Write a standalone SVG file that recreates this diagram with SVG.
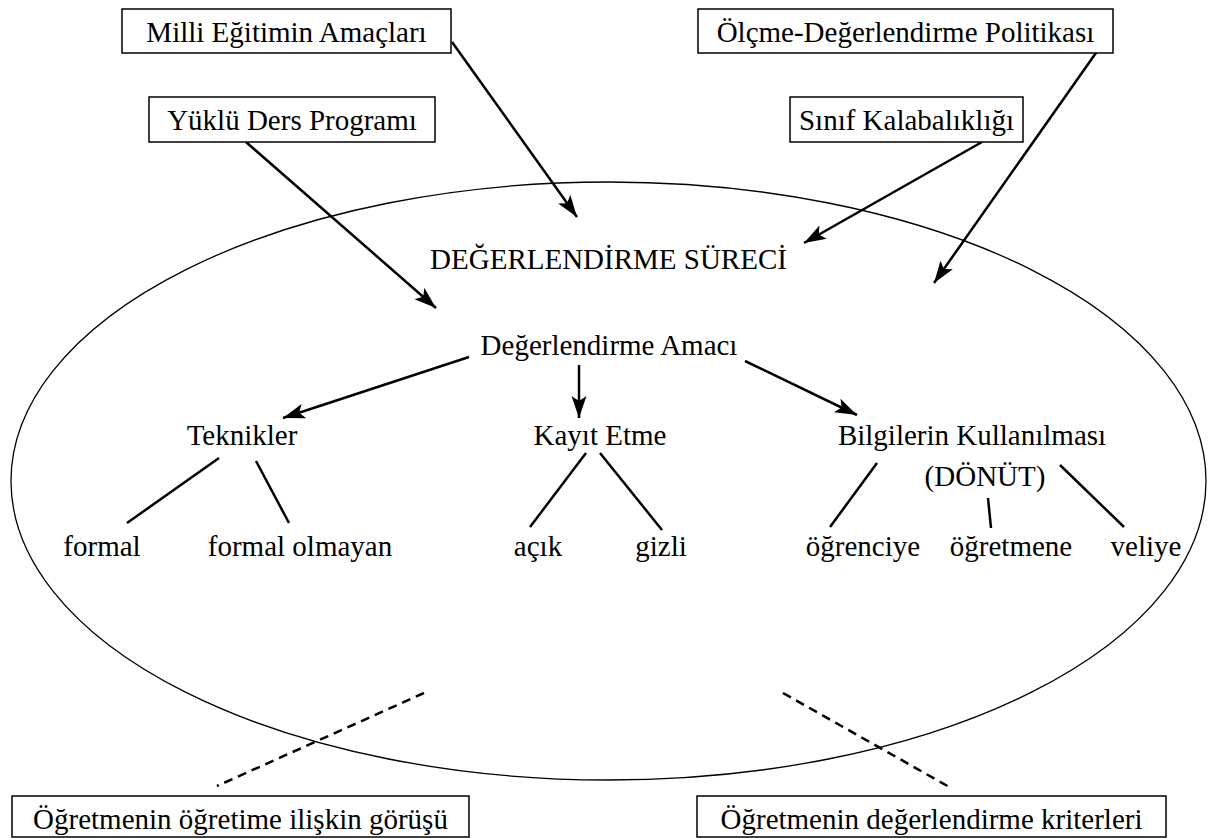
<svg xmlns="http://www.w3.org/2000/svg" width="1208" height="838" viewBox="0 0 1208 838">
<style>
text{font-size:29px;fill:#000;text-anchor:middle}
.box{fill:#fff;stroke:#000;stroke-width:1.5}
.c{stroke:#000;stroke-width:2.5;fill:none}
.a{stroke:#000;stroke-width:2.5;fill:none;marker-end:url(#ah)}
.d{stroke:#000;stroke-width:2.5;fill:none;stroke-dasharray:9 6}
</style>
<defs>
<marker id="ah" markerUnits="userSpaceOnUse" markerWidth="26" markerHeight="18" refX="22" refY="8" orient="auto" viewBox="0 0 26 18">
<path d="M22,8 L0,0.5 L5,8 L0,15.5 Z" fill="#000"/>
</marker>
</defs>
<rect width="1208" height="838" fill="#fff"/>
<ellipse id="surec" cx="608.5" cy="481" rx="597.5" ry="299" fill="none" stroke="#000" stroke-width="1.3"/>
<g id="connectors">
<line class="a" x1="452" y1="42" x2="577" y2="217"/>
<line class="a" x1="246" y1="142" x2="436" y2="308"/>
<line class="a" x1="982" y1="142" x2="804" y2="243"/>
<line class="a" x1="1098" y1="50" x2="934" y2="283"/>
<line class="a" x1="469" y1="357" x2="283" y2="418"/>
<line class="a" x1="579" y1="365" x2="579" y2="418"/>
<line class="a" x1="745" y1="361" x2="857" y2="415"/>
<line class="c" x1="219" y1="458" x2="127" y2="523"/>
<line class="c" x1="256" y1="461" x2="289" y2="523"/>
<line class="c" x1="586" y1="453" x2="530" y2="527"/>
<line class="c" x1="600" y1="453" x2="662" y2="530"/>
<line class="c" x1="877" y1="463" x2="830" y2="527"/>
<line class="c" x1="988" y1="498" x2="991" y2="528"/>
<line class="c" x1="1060" y1="465" x2="1124" y2="527"/>
<line class="d" x1="424" y1="693" x2="217" y2="786"/>
<line class="d" x1="783" y1="693" x2="951" y2="788"/>
</g>
<g font-family="'Liberation Serif', 'DejaVu Serif', serif">
<g id="milli"><rect class="box" x="122" y="9" width="329" height="44"/><text x="286.5" y="42">Milli Eğitimin Amaçları</text></g>
<g id="yuklu"><rect class="box" x="149" y="97" width="286" height="45"/><text x="292" y="130">Yüklü Ders Programı</text></g>
<g id="olcme"><rect class="box" x="698" y="9" width="415" height="44"/><text x="905.5" y="42">Ölçme-Değerlendirme Politikası</text></g>
<g id="sinif"><rect class="box" x="790" y="97" width="233" height="45"/><text x="906.5" y="130">Sınıf Kalabalıklığı</text></g>
<g id="baslik"><text x="608.5" y="269">DEĞERLENDİRME SÜRECİ</text></g>
<g id="amac"><text x="609" y="355">Değerlendirme Amacı</text></g>
<g id="teknikler"><text x="242" y="445">Teknikler</text></g>
<g id="kayit"><text x="600" y="445">Kayıt Etme</text></g>
<g id="bilgi"><text x="972" y="445">Bilgilerin Kullanılması</text><text x="985" y="486">(DÖNÜT)</text></g>
<g id="formal"><text x="102" y="556">formal</text></g>
<g id="formalolmayan"><text x="300" y="556">formal olmayan</text></g>
<g id="acik"><text x="538" y="556">açık</text></g>
<g id="gizli"><text x="661" y="556">gizli</text></g>
<g id="ogrenciye"><text x="863" y="556">öğrenciye</text></g>
<g id="ogretmene"><text x="1011" y="556">öğretmene</text></g>
<g id="veliye"><text x="1146" y="556">veliye</text></g>
<g id="gorus"><rect class="box" x="12" y="796" width="457" height="41"/><text x="240.5" y="829">Öğretmenin öğretime ilişkin görüşü</text></g>
<g id="kriter"><rect class="box" x="697" y="796" width="469" height="41"/><text x="931.5" y="829">Öğretmenin değerlendirme kriterleri</text></g>
</g>
</svg>
